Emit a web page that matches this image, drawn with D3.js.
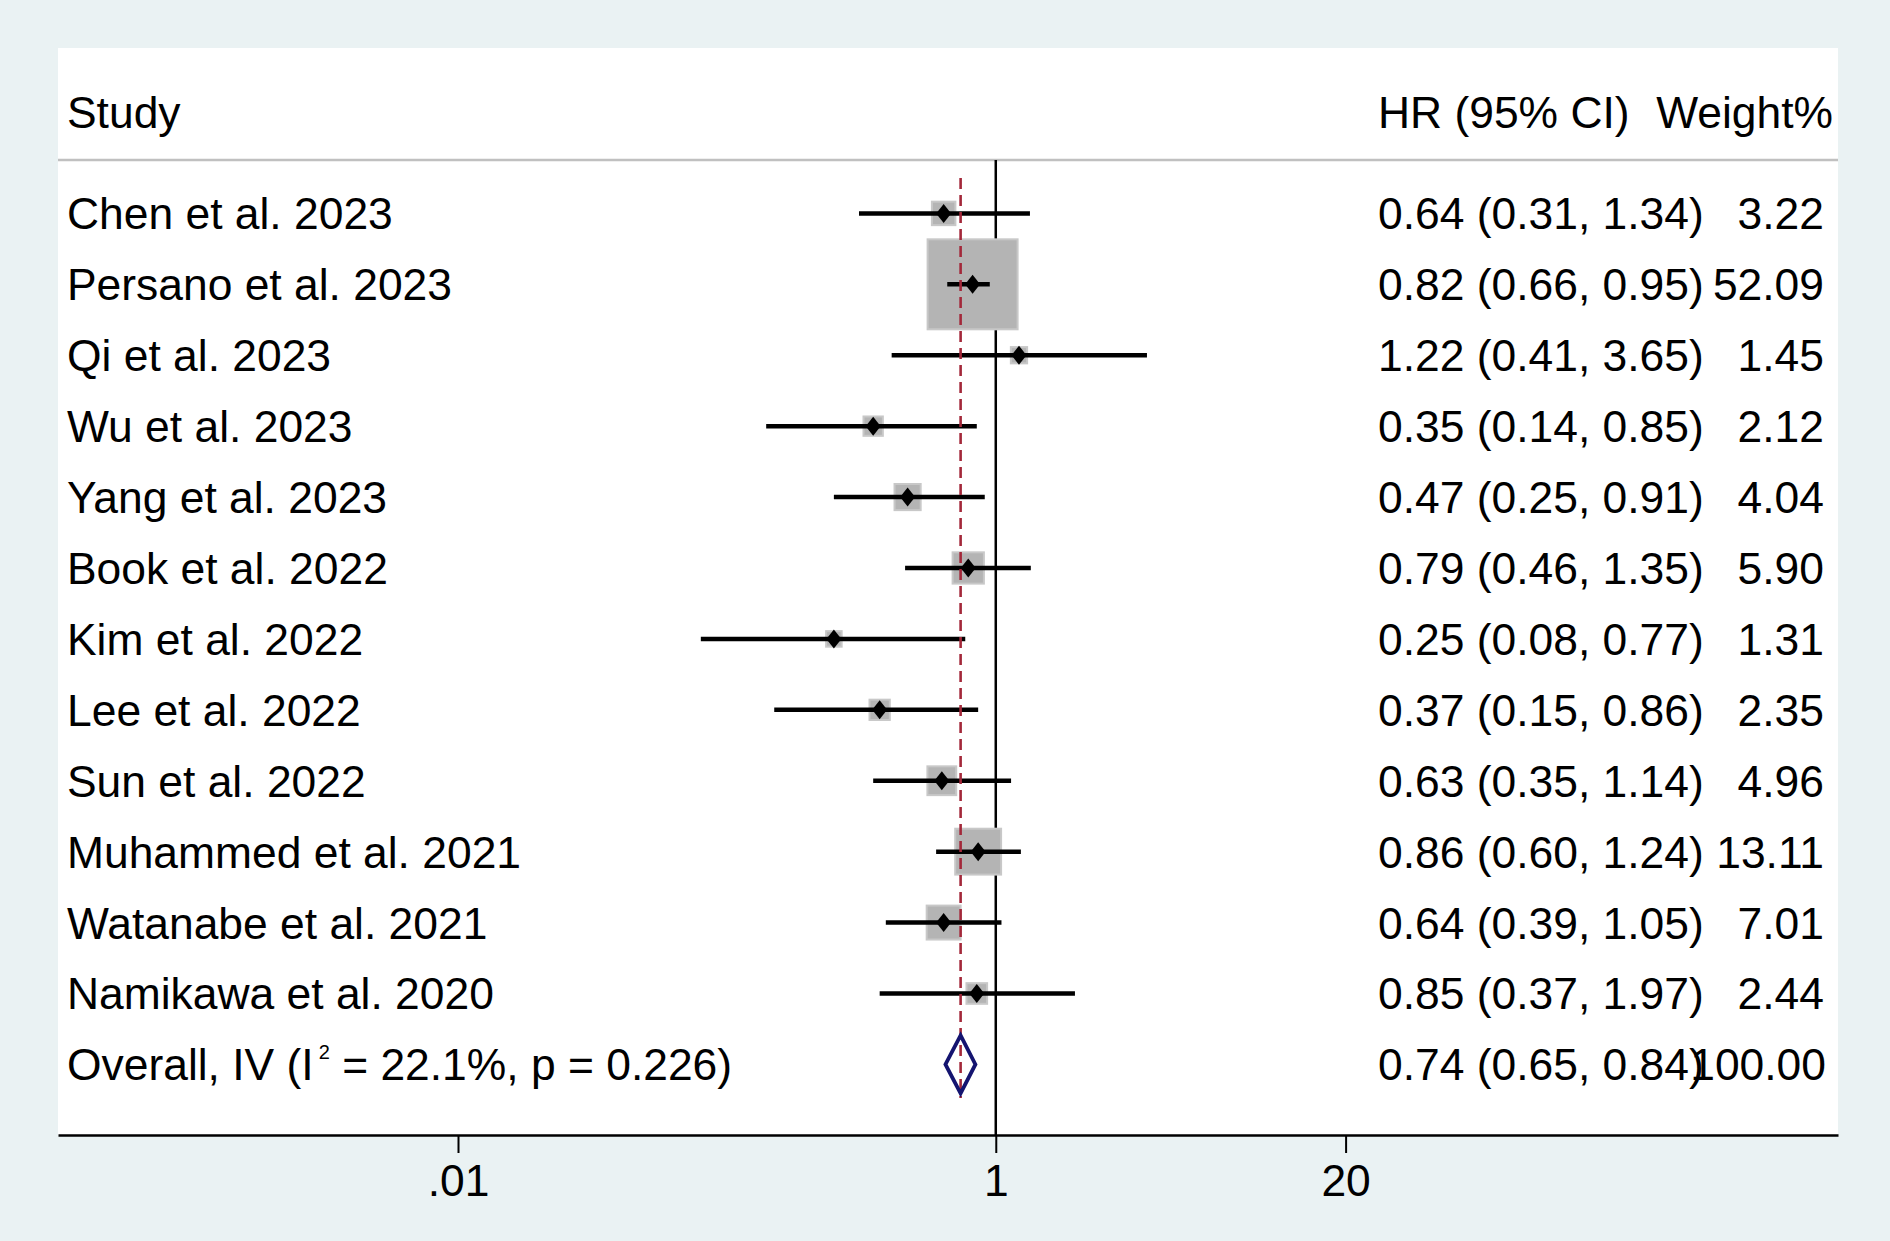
<!DOCTYPE html>
<html>
<head>
<meta charset="utf-8">
<script src="https://cdn.jsdelivr.net/npm/d3@7"></script>
<style>
body { margin: 0; background: #eaf2f3; }
text { font-family: "Liberation Sans", Arial, sans-serif; fill: #000; }
</style>
</head>
<body>
<script>
var w = 1890;
var h = 1241;
var fontSize = 44.4;

//Data
var studies = ["Chen et al. 2023", "Persano et al. 2023", "Qi et al. 2023", "Wu et al. 2023",
               "Yang et al. 2023", "Book et al. 2022", "Kim et al. 2022", "Lee et al. 2022",
               "Sun et al. 2022", "Muhammed et al. 2021", "Watanabe et al. 2021", "Namikawa et al. 2020"];
var hr     = [0.64, 0.82, 1.22, 0.35, 0.47, 0.79, 0.25, 0.37, 0.63, 0.86, 0.64, 0.85];
var lower  = [0.31, 0.66, 0.41, 0.14, 0.25, 0.46, 0.08, 0.15, 0.35, 0.60, 0.39, 0.37];
var upper  = [1.34, 0.95, 3.65, 0.85, 0.91, 1.35, 0.77, 0.86, 1.14, 1.24, 1.05, 1.97];
var weight = [3.22, 52.09, 1.45, 2.12, 4.04, 5.90, 1.31, 2.35, 4.96, 13.11, 7.01, 2.44];
var overall = [0.74, 0.65, 0.84, 100.00];   // HR, lower, upper, weight
var overallLabel = ["Overall, IV (I", "2", " = 22.1%, p = 0.226)"];
var tickValues = [0.01, 1, 20];
var tickLabels = [".01", "1", "20"];
var headers = ["Study", "HR (95% CI)", "Weight%"];

var dataset = studies.map(function(s, i) {
  return {study: s, hr: hr[i], lo: lower[i], hi: upper[i], w: weight[i]};
});

//Plot region
var plotLeft = 58, plotRight = 1838, plotTop = 48, axisY = 1135;

//Create scale functions
var xScale = d3.scaleLog()
             .domain([0.01, 20])
             .range([458, 1345.6]);
xScale.domain([xScale.invert(plotLeft), xScale.invert(plotRight)]).range([plotLeft, plotRight]);

var yScale = d3.scalePoint()
             .domain(d3.range(studies.length + 1))
             .range([213.4, 1064.4]);

var boxScale = d3.scaleSqrt()
             .domain([0, 100])
             .range([0, 122.6]);

//Create SVG element
var svg = d3.select("body")
            .append("svg")
            .attr("width", w)
            .attr("height", h);

svg.append("rect")
   .attr("width", w).attr("height", h)
   .attr("fill", "#eaf2f3");

svg.append("rect")
   .attr("x", plotLeft).attr("y", plotTop)
   .attr("width", plotRight - plotLeft).attr("height", axisY - plotTop)
   .attr("fill", "#ffffff");

//Headers
svg.append("text").attr("x", 67).attr("y", 128)
   .attr("font-size", fontSize).text(headers[0]);
svg.append("text").attr("x", 1378).attr("y", 128)
   .attr("font-size", fontSize).text(headers[1]);
svg.append("text").attr("x", 1833).attr("y", 128)
   .attr("text-anchor", "end")
   .attr("font-size", fontSize).text(headers[2]);

svg.append("line")
   .attr("x1", plotLeft).attr("x2", plotRight)
   .attr("y1", 160).attr("y2", 160)
   .attr("stroke", "#c0c0c0")
   .attr("stroke-width", 2.5);

//Null line
svg.append("line")
   .attr("x1", xScale(1)).attr("x2", xScale(1))
   .attr("y1", 160).attr("y2", axisY)
   .attr("stroke", "#000")
   .attr("stroke-width", 2.5);

//Weight boxes
svg.selectAll("rect.box")
   .data(dataset)
   .enter()
   .append("rect")
   .attr("class", "box")
   .attr("x", function(d) { return xScale(d.hr) - (boxScale(d.w) + 1.5) / 2; })
   .attr("y", function(d, i) { return yScale(i) - (boxScale(d.w) + 1.5) / 2; })
   .attr("width", function(d) { return boxScale(d.w) + 1.5; })
   .attr("height", function(d) { return boxScale(d.w) + 1.5; })
   .attr("fill", "#b4b4b4")
   .attr("stroke", "#c8c8c8")
   .attr("stroke-width", 2);

//CI lines
svg.selectAll("line.ci")
   .data(dataset)
   .enter()
   .append("line")
   .attr("class", "ci")
   .attr("x1", function(d) { return xScale(d.lo); })
   .attr("x2", function(d) { return xScale(d.hi); })
   .attr("y1", function(d, i) { return yScale(i); })
   .attr("y2", function(d, i) { return yScale(i); })
   .attr("stroke", "#000")
   .attr("stroke-width", 4.5);

//Overall effect line
svg.append("line")
   .attr("x1", xScale(overall[0])).attr("x2", xScale(overall[0]))
   .attr("y1", 178).attr("y2", 1098)
   .attr("stroke", "#a3283a")
   .attr("stroke-width", 2.6)
   .attr("stroke-dasharray", "11,6");

//Point estimates
svg.selectAll("path.pt")
   .data(dataset)
   .enter()
   .append("path")
   .attr("class", "pt")
   .attr("d", function(d, i) {
      var x = xScale(d.hr), y = yScale(i);
      return "M" + (x - 7.5) + "," + y + "L" + x + "," + (y - 9.5) +
             "L" + (x + 7.5) + "," + y + "L" + x + "," + (y + 9.5) + "Z";
   })
   .attr("fill", "#000");

//Overall diamond
var oy = yScale(studies.length);
svg.append("path")
   .attr("d", "M" + xScale(overall[1]) + "," + oy +
              "L" + xScale(overall[0]) + "," + (oy - 29) +
              "L" + xScale(overall[2]) + "," + oy +
              "L" + xScale(overall[0]) + "," + (oy + 29) + "Z")
   .attr("fill", "none")
   .attr("stroke", "#141470")
   .attr("stroke-width", 3.8);

//Study labels
svg.selectAll("text.study")
   .data(dataset)
   .enter()
   .append("text")
   .attr("class", "study")
   .attr("x", 67)
   .attr("y", function(d, i) { return yScale(i) + 16; })
   .attr("font-size", fontSize)
   .text(function(d) { return d.study; });

svg.selectAll("text.hr")
   .data(dataset)
   .enter()
   .append("text")
   .attr("class", "hr")
   .attr("x", 1378)
   .attr("y", function(d, i) { return yScale(i) + 16; })
   .attr("font-size", fontSize)
   .text(function(d) { return d.hr.toFixed(2) + " (" + d.lo.toFixed(2) + ", " + d.hi.toFixed(2) + ")"; });

svg.selectAll("text.wt")
   .data(dataset)
   .enter()
   .append("text")
   .attr("class", "wt")
   .attr("x", 1824)
   .attr("y", function(d, i) { return yScale(i) + 16; })
   .attr("text-anchor", "end")
   .attr("font-size", fontSize)
   .text(function(d) { return d.w.toFixed(2); });

//Overall row text
var ot = svg.append("text")
   .attr("x", 67).attr("y", oy + 16)
   .attr("font-size", fontSize);
ot.append("tspan").text(overallLabel[0]);
ot.append("tspan").attr("font-size", 20).attr("dx", 5).attr("dy", -21).text(overallLabel[1]);
ot.append("tspan").attr("dy", 21).text(overallLabel[2]);

svg.append("text")
   .attr("x", 1378).attr("y", oy + 16)
   .attr("font-size", fontSize)
   .text(overall[0].toFixed(2) + " (" + overall[1].toFixed(2) + ", " + overall[2].toFixed(2) + ")");
svg.append("text")
   .attr("x", 1826).attr("y", oy + 16)
   .attr("text-anchor", "end")
   .attr("font-size", fontSize)
   .text(overall[3].toFixed(2));

//Create X axis
var xAxis = d3.axisBottom()
            .scale(xScale)
            .tickValues(tickValues)
            .tickSize(18)
            .tickSizeOuter(0)
            .tickPadding(11)
            .tickFormat(function(d, i) { return tickLabels[i]; });

var gx = svg.append("g")
    .attr("class", "axis")
    .attr("transform", "translate(0," + axisY + ")")
    .call(xAxis);
gx.select(".domain").attr("stroke", "#000").attr("stroke-width", 2.5);
gx.selectAll(".tick line").attr("stroke", "#000").attr("stroke-width", 2);
gx.selectAll(".tick text")
  .attr("font-size", fontSize)
  .attr("font-family", "'Liberation Sans', Arial, sans-serif")
  .attr("fill", "#000");
</script>
</body>
</html>
